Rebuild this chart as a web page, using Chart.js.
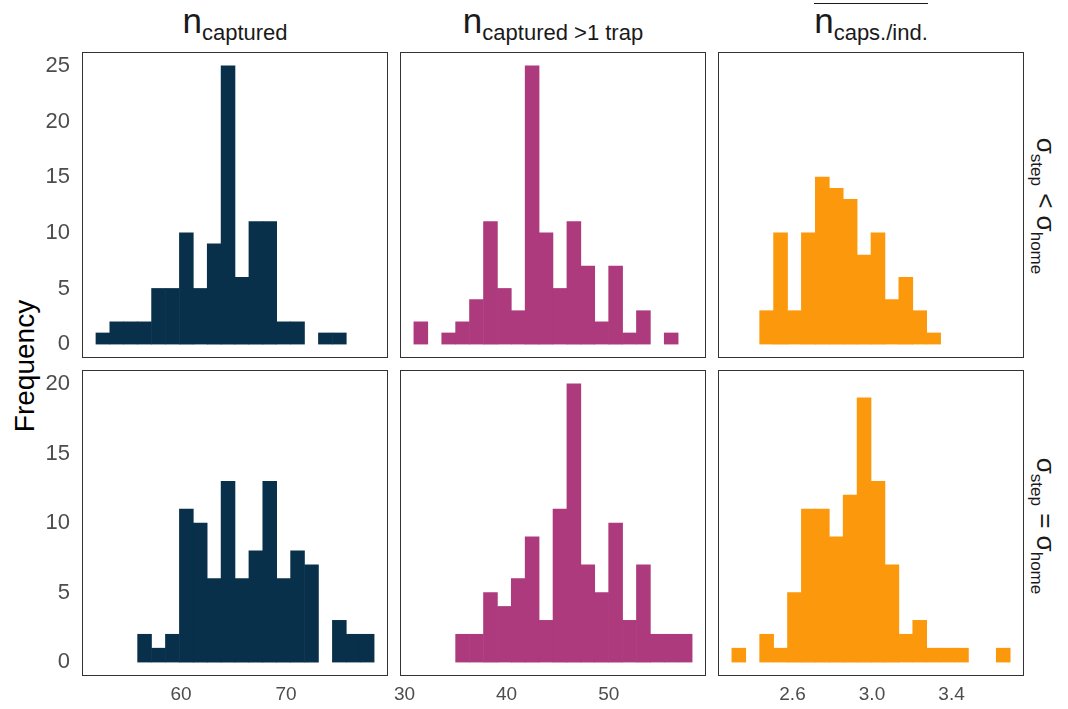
<!DOCTYPE html>
<html>
<head>
<meta charset="utf-8">
<script src="https://cdn.jsdelivr.net/npm/chart.js@4.4.1/dist/chart.umd.min.js"></script>
<style>
  html, body { margin:0; padding:0; background:#fff; }
  body { width:1068px; height:709px; position:relative; overflow:hidden; font-family:"Liberation Sans", Arial, sans-serif; }
  canvas { position:absolute; }
  .title { position:absolute; top:1px; width:306px; text-align:center; font-size:35px; line-height:40px; color:#1a1a1a; white-space:nowrap; }
  .title sub { font-size:22px; vertical-align:-0.3em; line-height:0; }
  .over { display:inline-block; border-top:1.5px solid #1a1a1a; padding-top:0px; line-height:34px; }
  .strip { position:absolute; font-size:26px; color:#1a1a1a; white-space:nowrap; transform:translate(-50%,-50%) rotate(90deg); line-height:30px; }
  .strip sub { font-size:17px; vertical-align:-0.35em; line-height:0; }
  .ylab { position:absolute; left:25px; top:366px; font-size:28px; color:#000; white-space:nowrap; transform:translate(-50%,-50%) rotate(-90deg); }
</style>
</head>
<body>
<div class="title" style="left:82px;">n<sub>captured</sub></div>
<div class="title" style="left:400px;">n<sub>captured &gt;1 trap</sub></div>
<div class="title" style="left:718px;"><span class="over">n<sub>caps./ind.</sub></span></div>
<div class="strip" style="left:1046px; top:206px;">σ<sub>step</sub> &lt; σ<sub>home</sub></div>
<div class="strip" style="left:1046px; top:526px;">σ<sub>step</sub> = σ<sub>home</sub></div>
<div class="ylab">Frequency</div>
<script>
// ---------- data (histogram bin centres and counts) ----------
const binsCaptured = [52.56,53.88,55.21,56.53,57.86,59.18,60.51,61.83,63.16,64.48,65.80,67.13,68.45,69.78,71.10,72.43,73.75,75.08,76.40,77.73];
const binsTrap     = [31.60,32.97,34.33,35.69,37.05,38.42,39.78,41.14,42.50,43.86,45.23,46.59,47.95,49.31,50.68,52.04,53.40,54.76,56.12,57.49];
const binsCaps     = [2.33,2.40,2.47,2.54,2.61,2.68,2.75,2.82,2.89,2.96,3.03,3.10,3.17,3.24,3.31,3.38,3.45,3.52,3.59,3.66];

const capturedLess  = [1,2,2,2,5,5,10,5,9,25,6,11,11,2,2,0,1,1,0,0];
const capturedEqual = [0,0,0,2,1,2,11,10,6,13,6,8,13,6,8,7,0,3,2,2];
const trapLess      = [2,0,1,2,4,11,5,3,25,10,5,11,7,2,7,1,3,0,1,0];
const trapEqual     = [0,0,0,2,2,5,4,6,9,3,11,20,7,5,10,3,7,2,2,2];
const capsLess      = [0,0,3,10,3,10,15,14,13,8,10,4,6,3,1,0,0,0,0,0];
const capsEqual     = [1,0,2,1,5,11,11,9,12,19,13,7,2,3,1,1,1,0,0,1];

const xTicksCaptured = [60, 70];
const xTicksTrap     = [30, 40, 50];
const xTicksCaps     = [2.6, 3.0, 3.4];
const yTicksLess     = [0, 5, 10, 15, 20, 25];
const yTicksEqual    = [0, 5, 10, 15, 20];

const colCaptured = '#08304a';
const colTrap     = '#ad3a7d';
const colCaps     = '#fb980c';

// ---------- layout ----------
const PANEL = 306;
const colLeft = [82, 400, 718];
const rowTop  = [52, 370];
const xRange  = [[50.571, 79.714], [29.56, 59.53], [2.2253, 3.7645]];
const yRange  = [[-1.25, 26.25], [-1.0, 21.0]];
const Y_AXIS_W = 60, X_AXIS_H = 40, PADX = 14;

const borderPlugin = {
  id: 'panelBorder',
  afterDatasetsDraw(chart) {
    const { ctx, chartArea: a } = chart;
    ctx.save();
    ctx.strokeStyle = '#333333';
    ctx.lineWidth = 1;
    ctx.strokeRect(Math.round(a.left) + 0.5, Math.round(a.top) + 0.5, Math.round(a.width) - 1, Math.round(a.height) - 1);
    ctx.restore();
  }
};

function makePanel(col, row, bins, counts, color, xTicks, yTicks, xFmt) {
  const showY = col === 0, showX = row === 1;
  const cv = document.createElement('canvas');
  const left = colLeft[col] - (showY ? Y_AXIS_W : PADX);
  const w = PANEL + (showY ? Y_AXIS_W : PADX) + PADX;
  const h = PANEL + (showX ? X_AXIS_H : 0);
  cv.width = w; cv.height = h;
  cv.style.left = left + 'px'; cv.style.top = rowTop[row] + 'px';
  cv.style.width = w + 'px'; cv.style.height = h + 'px';
  document.body.appendChild(cv);
  new Chart(cv.getContext('2d'), {
    type: 'bar',
    data: {
      datasets: [{
        data: bins.map((b, i) => ({ x: b, y: counts[i] === 0 ? null : counts[i] })),
        backgroundColor: color,
        borderWidth: 0,
        barPercentage: 1.0,
        categoryPercentage: 1.0
      }]
    },
    options: {
      responsive: false,
      animation: false,
      devicePixelRatio: 1,
      layout: { padding: { left: showY ? 0 : PADX, right: PADX, top: 0, bottom: 0 } },
      plugins: { legend: { display: false }, tooltip: { enabled: false }, title: { display: false } },
      scales: {
        x: {
          type: 'linear',
          offset: false,
          min: xRange[col][0], max: xRange[col][1],
          display: showX,
          grid: { display: false, drawTicks: false },
          border: { display: false },
          afterBuildTicks: s => { s.ticks = xTicks.map(v => ({ value: v })); },
          afterFit: s => {
            if (showX) s.height = X_AXIS_H;
            s.paddingLeft = 0; s.paddingRight = 0;
          },
          ticks: {
            autoSkip: false, maxRotation: 0, padding: 7,
            color: '#4d4d4d',
            font: { family: '"Liberation Sans", Arial, sans-serif', size: 19 },
            callback: v => xFmt(v)
          }
        },
        y: {
          type: 'linear',
          min: yRange[row][0], max: yRange[row][1],
          display: showY,
          grid: { display: false, drawTicks: false },
          border: { display: false },
          afterBuildTicks: s => { s.ticks = yTicks.map(v => ({ value: v })); },
          afterFit: s => {
            if (showY) s.width = Y_AXIS_W;
            s.paddingTop = 0; s.paddingBottom = 0;
          },
          ticks: {
            autoSkip: false, padding: 12,
            color: '#4d4d4d',
            font: { family: '"Liberation Sans", Arial, sans-serif', size: 22 },
            callback: v => String(v)
          }
        }
      }
    },
    plugins: [borderPlugin]
  });
}

const fmtInt = v => String(v);
const fmtDec = v => v.toFixed(1);

makePanel(0, 0, binsCaptured, capturedLess,  colCaptured, xTicksCaptured, yTicksLess,  fmtInt);
makePanel(1, 0, binsTrap,     trapLess,      colTrap,     xTicksTrap,     yTicksLess,  fmtInt);
makePanel(2, 0, binsCaps,     capsLess,      colCaps,     xTicksCaps,     yTicksLess,  fmtDec);
makePanel(0, 1, binsCaptured, capturedEqual, colCaptured, xTicksCaptured, yTicksEqual, fmtInt);
makePanel(1, 1, binsTrap,     trapEqual,     colTrap,     xTicksTrap,     yTicksEqual, fmtInt);
makePanel(2, 1, binsCaps,     capsEqual,     colCaps,     xTicksCaps,     yTicksEqual, fmtDec);
</script>
</body>
</html>
